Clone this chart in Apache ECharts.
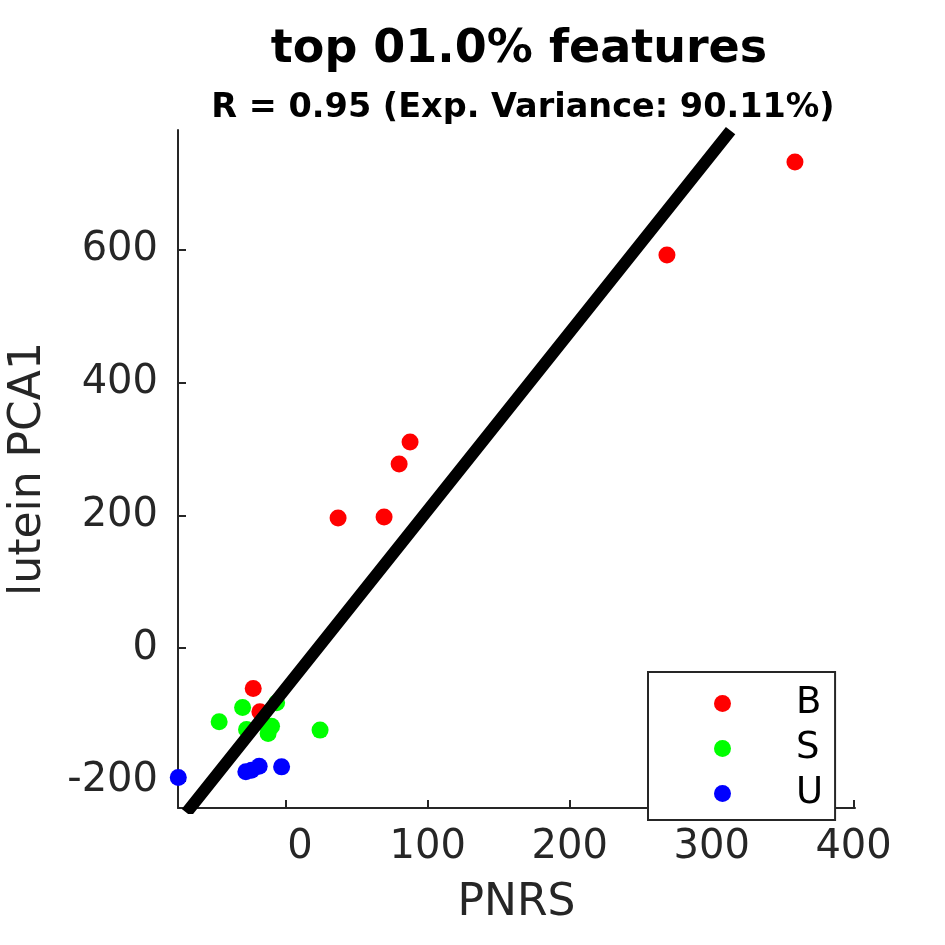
<!DOCTYPE html>
<html>
<head>
<meta charset="utf-8">
<script src="https://cdn.jsdelivr.net/npm/echarts@6/dist/echarts.min.js"></script>
<style>html,body{margin:0;padding:0;background:#fff;}#c{width:945px;height:945px;}</style>
</head>
<body>
<div id="c"></div>
<script>
const titleText = "top 01.0% features";
const subtitleText = "R = 0.95 (Exp. Variance: 90.11%)";
const xName = "PNRS";
const yName = "lutein PCA1";
const xTicks = [0, 100, 200, 300, 400];
const yTicks = [-200, 0, 200, 400, 600];
const xRange = [-76, 401];
const yRange = [-241, 781];
const groupNames = ["B", "S", "U"];
const groupColors = ["#ff0000", "#00ff00", "#0000ff"];
const pointsB = [[358.7, 732.7], [268.5, 592.5], [87.5, 310.6], [79.8, 277.4], [36.8, 196], [69.2, 197.5], [-23, -60.8], [-18.3, -96]];
const pointsS = [[-47, -111], [-30.5, -89.4], [-6.5, -82.5], [-27.7, -122.6], [-10.1, -117.6], [-12.5, -128.6], [24.1, -123.6], [-16.7, -111.6]];
const pointsU = [[-75.8, -195], [-28.2, -186.5], [-24.2, -184], [-18.8, -178], [-3, -179]];
const fitLine = [[-67.4, -241], [310.7, 773]];

const font = "DejaVu Sans";
const axisColor = "#262626";
const groups = [pointsB, pointsS, pointsU];

const series = groups.map((pts, i) => ({
  name: groupNames[i],
  type: "scatter",
  data: pts,
  symbol: "circle",
  symbolSize: 17,
  itemStyle: { color: groupColors[i], opacity: 1 },
  z: 2
}));
series.push({
  name: "fit",
  type: "line",
  data: fitLine,
  symbol: "none",
  lineStyle: { color: "#000", width: 12, cap: "square" },
  z: 5,
  silent: true
});

const chart = echarts.init(document.getElementById("c"), null, { renderer: "canvas" });
chart.setOption({
  animation: false,
  backgroundColor: "#fff",
  textStyle: { fontFamily: font },
  title: [
    { text: titleText, left: 514, top: 22, textAlign: "center",
      textStyle: { fontFamily: font, fontWeight: "bold", fontSize: 46, color: "#000" } },
    { text: subtitleText, left: 518, top: 86, textAlign: "center",
      textStyle: { fontFamily: font, fontWeight: "bold", fontSize: 33.5, color: "#000" } }
  ],
  grid: { left: 178, right: 90, top: 130, bottom: 137, containLabel: false, outerBoundsMode: "none" },
  legend: {
    data: groupNames,
    orient: "vertical",
    left: 648, top: 672,
    padding: [13, 12, 8, 66],
    itemGap: 8,
    itemWidth: 17, itemHeight: 17,
    icon: "circle",
    borderColor: axisColor, borderWidth: 2,
    backgroundColor: "#fff",
    textStyle: { fontFamily: font, fontSize: 37, color: "#000", lineHeight: 37, padding: [0, 0, 0, 60] }
  },
  xAxis: {
    type: "value",
    min: xRange[0], max: xRange[1],
    name: xName, nameLocation: "middle", nameGap: 74,
    nameTextStyle: { fontFamily: font, fontSize: 44, color: axisColor },
    splitLine: { show: false },
    axisLine: { show: true, onZero: false, lineStyle: { color: axisColor, width: 2 } },
    axisTick: { show: true, inside: true, length: 8, lineStyle: { color: axisColor, width: 2 }, customValues: xTicks },
    axisLabel: {
      fontFamily: font, fontSize: 40, color: axisColor, margin: 20, customValues: xTicks,
      formatter: v => (v === 0 ? "{z|0}" : String(v)),
      rich: { z: { fontFamily: font, fontSize: 40, color: axisColor, padding: [0, 0, 0, 28] } }
    }
  },
  yAxis: {
    type: "value",
    min: yRange[0], max: yRange[1],
    name: yName, nameLocation: "middle", nameGap: 127, nameRotate: 90,
    nameTextStyle: { fontFamily: font, fontSize: 44, color: axisColor },
    splitLine: { show: false },
    axisLine: { show: true, onZero: false, lineStyle: { color: axisColor, width: 2 } },
    axisTick: { show: true, inside: true, length: 8, lineStyle: { color: axisColor, width: 2 }, customValues: yTicks },
    axisLabel: { fontFamily: font, fontSize: 40, color: axisColor, margin: 20, customValues: yTicks }
  },
  series: series
});
</script>
</body>
</html>
